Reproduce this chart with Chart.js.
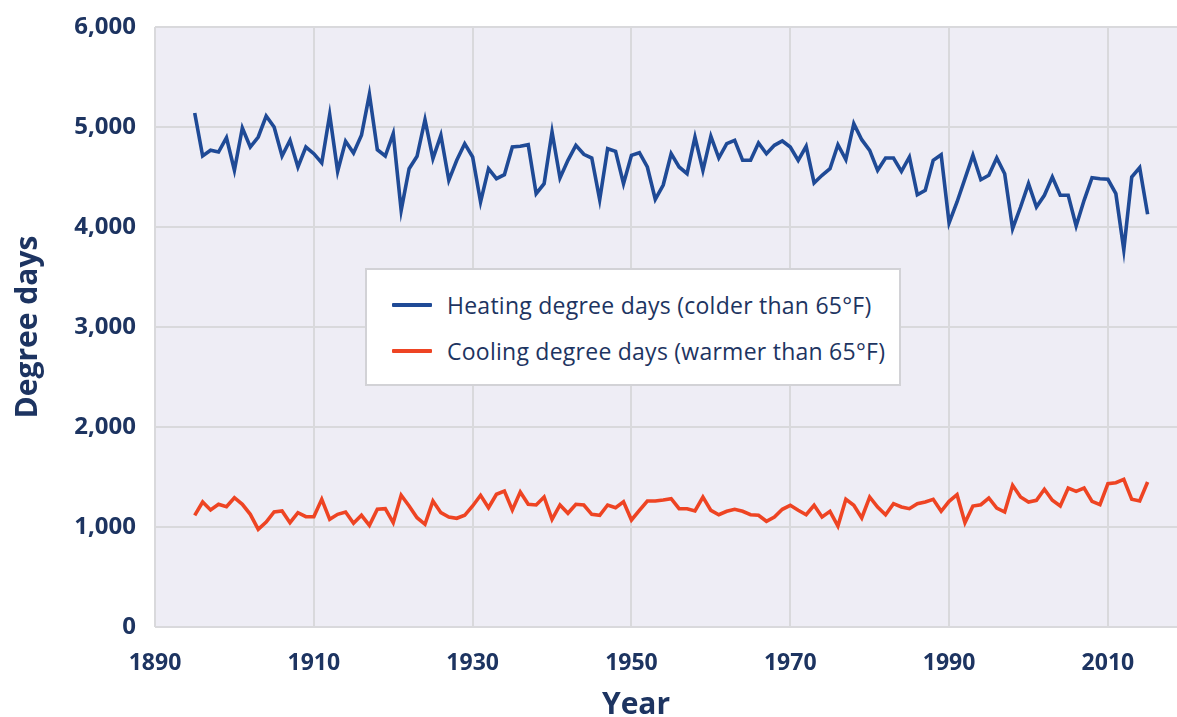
<!DOCTYPE html>
<html>
<head>
<meta charset="utf-8">
<script src="https://cdn.jsdelivr.net/npm/chart.js@4"></script>
<style>
  html, body { margin: 0; padding: 0; background: #ffffff; }
  #wrap { position: relative; width: 1177px; height: 717px; }
  #legend {
    position: absolute; left: 365px; top: 268px; width: 532px; height: 114px;
    background: #ffffff; border: 2px solid #d2d2d6; box-sizing: content-box;
    font-family: "Open Sans", sans-serif; font-size: 23px; letter-spacing: 0.25px; color: #1d3461;
  }
  .lg-row { position: absolute; left: 0; height: 30px; display: flex; align-items: center; white-space: nowrap; }
  .lg-line { display: inline-block; width: 40px; height: 4px; margin-left: 25px; margin-right: 15px; border-radius: 1px; }
</style>
</head>
<body>
<div id="wrap">
  <canvas id="c" width="1177" height="717"></canvas>
  <div id="legend"></div>
</div>
<script>
const FIRST_YEAR = 1895;
const LAST_YEAR = 2015;
const xTickLabels = [1890, 1910, 1930, 1950, 1970, 1990, 2010];
const yTickLabels = [0, 1000, 2000, 3000, 4000, 5000, 6000];
const seriesNames = ["Heating degree days (colder than 65°F)", "Cooling degree days (warmer than 65°F)"];
const xTitle = "Year";
const yTitle = "Degree days";

const heating = [
  5140,4710,4767,4750,4893,4567,4990,4800,4900,5110,
  5000,4710,4867,4600,4800,4733,4640,5123,4557,4857,
  4740,4917,5327,4773,4710,4933,4167,4583,4707,5073,
  4683,4917,4467,4667,4833,4700,4250,4583,4483,4523,
  4800,4807,4823,4333,4433,4950,4490,4667,4817,4727,
  4690,4273,4783,4757,4433,4717,4743,4600,4277,4420,
  4733,4600,4533,4900,4567,4907,4690,4833,4867,4667,
  4667,4840,4733,4817,4860,4800,4667,4807,4440,4517,
  4583,4823,4673,5033,4873,4767,4567,4690,4690,4557,
  4700,4323,4367,4667,4723,4040,4250,4483,4717,4473,
  4517,4690,4533,3983,4200,4433,4200,4317,4500,4317,
  4317,4010,4267,4493,4483,4477,4333,3773,4500,4593,
  4127
];
const cooling = [
  1117,1250,1170,1227,1203,1293,1227,1127,977,1050,
  1150,1160,1043,1143,1103,1103,1277,1077,1127,1150,
  1037,1117,1017,1177,1183,1043,1317,1210,1093,1027,
  1260,1143,1100,1087,1117,1210,1317,1193,1327,1360,
  1170,1350,1227,1220,1300,1077,1220,1137,1227,1220,
  1127,1117,1220,1193,1253,1070,1167,1260,1260,1270,
  1283,1183,1183,1160,1300,1167,1123,1157,1177,1157,
  1123,1117,1057,1100,1177,1217,1167,1123,1217,1100,
  1157,1010,1277,1217,1090,1300,1200,1123,1233,1200,
  1183,1233,1250,1277,1157,1257,1323,1043,1210,1223,
  1290,1190,1150,1417,1300,1250,1267,1377,1267,1210,
  1390,1357,1390,1257,1223,1433,1443,1477,1277,1260,
  1450
];

const years = [];
for (let y = FIRST_YEAR; y <= LAST_YEAR; y++) years.push(y);

const toPoints = (vals) => vals.map((v, i) => ({ x: years[i], y: v }));

const TEXT = "#1d3461";
const GRID = "#d9d9dc";

const bgPlugin = {
  id: "plotBg",
  beforeDraw(chart) {
    const { ctx, chartArea: a } = chart;
    ctx.save();
    ctx.fillStyle = "#eeedf5";
    ctx.fillRect(a.left, a.top, a.right - a.left, a.bottom - a.top);
    ctx.restore();
  }
};

// x-axis title, placed where the reference centres it
const xTitlePlugin = {
  id: "xTitle",
  afterDraw(chart) {
    const { ctx } = chart;
    ctx.save();
    ctx.fillStyle = TEXT;
    ctx.font = "bold 30px 'Open Sans'";
    ctx.textAlign = "center";
    ctx.textBaseline = "middle";
    ctx.fillText(xTitle, 636, 705);
    ctx.restore();
  }
};

const chart = new Chart(document.getElementById("c"), {
  type: "line",
  data: {
    datasets: [
      { label: seriesNames[0], data: toPoints(heating), borderColor: "#1f4a96", borderWidth: 3.6, pointRadius: 0, tension: 0, fill: false },
      { label: seriesNames[1], data: toPoints(cooling), borderColor: "#ee4423", borderWidth: 3.6, pointRadius: 0, tension: 0, fill: false }
    ]
  },
  options: {
    responsive: false,
    devicePixelRatio: 1,
    animation: false,
    layout: { padding: { top: 27, right: 0, left: 0, bottom: 0 } },
    plugins: { legend: { display: false }, tooltip: { enabled: false } },
    scales: {
      x: {
        type: "linear",
        min: 1890,
        max: 2018.7,
        afterBuildTicks(scale) { scale.ticks = xTickLabels.map(v => ({ value: v })); },
        afterFit(scale) { scale.height = 90; scale.paddingLeft = 0; scale.paddingRight = 0; },
        grid: { color: GRID, lineWidth: 2, drawTicks: false },
        border: { display: false },
        ticks: {
          padding: 23,
          color: TEXT,
          font: { family: "'Open Sans'", size: 23, weight: "bold" },
          maxRotation: 0,
          callback: (v) => String(v)
        },
        title: { display: false }
      },
      y: {
        min: 0,
        max: 6000,
        afterBuildTicks(scale) { scale.ticks = yTickLabels.map(v => ({ value: v })); },
        afterFit(scale) { scale.width = 155; scale.paddingTop = 0; scale.paddingBottom = 0; },
        grid: { color: GRID, lineWidth: 2, drawTicks: false },
        border: { display: false },
        ticks: {
          padding: 19,
          color: TEXT,
          font: { family: "'Open Sans'", size: 24, weight: "bold" },
          callback: (v) => Number(v).toLocaleString("en-US")
        },
        title: {
          display: true,
          text: yTitle,
          color: TEXT,
          font: { family: "'Open Sans'", size: 30, weight: "bold", lineHeight: 1 },
          padding: { top: 13, bottom: 0 }
        }
      }
    }
  },
  plugins: [bgPlugin, xTitlePlugin]
});

// HTML legend built from the chart's datasets
const legend = document.getElementById("legend");
const rowTops = [20, 66];
chart.data.datasets.forEach((ds, i) => {
  const row = document.createElement("div");
  row.className = "lg-row";
  row.style.top = rowTops[i] + "px";
  const ln = document.createElement("span");
  ln.className = "lg-line";
  ln.style.background = ds.borderColor;
  const tx = document.createElement("span");
  tx.textContent = ds.label;
  row.appendChild(ln);
  row.appendChild(tx);
  legend.appendChild(row);
});
</script>
</body>
</html>
